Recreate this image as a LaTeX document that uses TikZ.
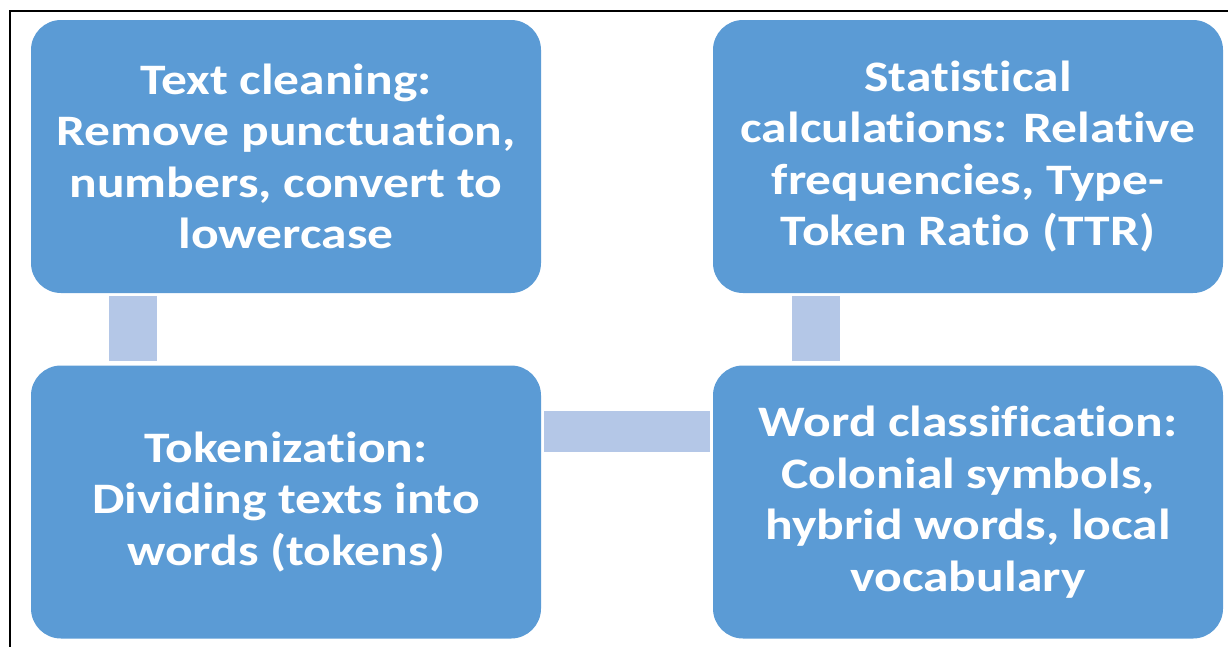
\documentclass[tikz,border=0pt]{standalone}
\usepackage{fontspec}
\setmainfont{Carlito}[FakeStretch=1.185, Ligatures=NoCommon]
\definecolor{boxblue}{HTML}{5B9BD5}
\definecolor{linkblue}{HTML}{B4C7E7}
\tikzset{
  stage/.style={fill=boxblue, rounded corners=30pt, minimum width=510pt, minimum height=273pt,
    inner sep=0pt, text=white, align=center, font=\bfseries\fontsize{43.5}{51.5}\selectfont},
  link/.style={draw=linkblue, line cap=butt}
}
\begin{document}
\begin{tikzpicture}[x=1pt,y=-1pt]
            \useasboundingbox (0,0) rectangle (1228,646);
            \draw[line width=2pt] (10,652) -- (10,11) -- (1234,11);

            \node[stage] (clean) at (286,156.5) {Text cleaning:\\Remove punctuation,\\numbers, convert to\\lowercase};
            \node[stage] (token) at (286,502) {Tokenization:\\Dividing texts into\\words (tokens)};
            \node[stage] (stats) at (968,156.5) {Statistical\\calculations: Relative\\frequencies, Type-\\Token Ratio (TTR)};
            \node[stage] (words) at (968,502) {Word classification:\\Colonial symbols,\\hybrid words, local\\vocabulary};

            \draw[link, line width=48pt] ([xshift=102pt,yshift=-3pt]clean.south west) to ([xshift=102pt,yshift=4pt]token.north west);
            \draw[link, line width=41pt] ([xshift=3pt,yshift=-66.5pt]token.north east) to ([xshift=-3pt,yshift=-66.5pt]words.north west);
            \draw[link, line width=48pt] ([xshift=103.5pt,yshift=4pt]words.north west) to ([xshift=103.5pt,yshift=-3pt]stats.south west);
        \end{tikzpicture}
\end{document}
